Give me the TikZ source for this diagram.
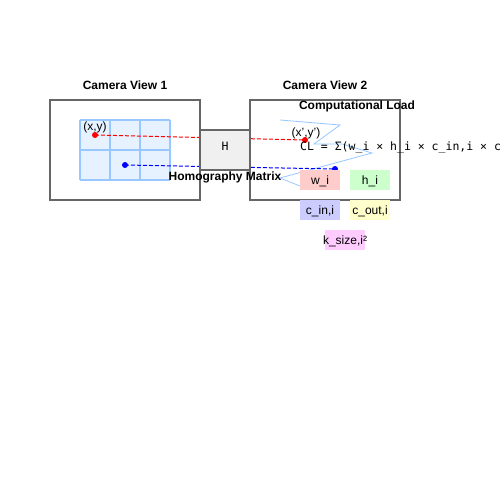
\documentclass[tikz,border=0pt]{standalone}
\usepackage{fontspec}
\setmainfont{Liberation Sans}
\setmonofont{DejaVu Sans Mono}
\definecolor{gridfill}{HTML}{E6F2FF}
\definecolor{gridline}{HTML}{99C7FF}
\definecolor{boxline}{HTML}{666666}
\definecolor{wfill}{HTML}{FFCCCC}
\definecolor{hfill}{HTML}{CCFFCC}
\definecolor{cinfill}{HTML}{CCCCFF}
\definecolor{coutfill}{HTML}{FFFFCC}
\definecolor{kfill}{HTML}{FFCCFF}
\begin{document}
\begin{tikzpicture}[x=1pt,y=-1pt,
  view/.style={draw=boxline, line width=1.2pt, minimum width=150pt, minimum height=100pt, inner sep=0pt, outer sep=0pt},
  title/.style={font=\bfseries\fontsize{12}{14}\selectfont, inner sep=0pt, anchor=base},
  lbl/.style={font=\fontsize{12}{14}\selectfont, inner sep=0pt, anchor=base},
  mono/.style={font=\ttfamily\fontsize{11.5}{13}\selectfont, inner sep=0pt, anchor=base},
  varbox/.style={minimum width=40pt, minimum height=20pt, inner sep=0pt, outer sep=0pt},
  boxtext/.style={font=\fontsize{12}{14}\selectfont, inner sep=0pt, text height=8.6pt, text depth=0pt},
  dotnode/.style={circle, inner sep=0pt, minimum size=6pt},
  corr/.style={line width=1pt, dash pattern=on 4pt off 2pt},
  gridstroke/.style={draw=gridline, line width=1.5pt},
  warp/.style={draw=gridline, line width=0.8pt}]
\useasboundingbox (0,0) rectangle (500,500);
\clip (0,0) rectangle (500,500);
\fill[white] (0,0) rectangle (500,500);

% camera views
\node[view] (cv1) at (125,150) {};
\node[view] (cv2) at (325,150) {};
\node[title] (t1) at (125,90) {Camera View 1};
\node[title] (t2) at (325,90) {Camera View 2};
\node[title] (tcl) at (357,110) {Computational Load};

% grid in view 1
\fill[gridfill] (80,120) rectangle (170,180);
\foreach \gx in {80,110,140,170} \draw[gridstroke] (\gx,120) -- (\gx,180);
\foreach \gy in {120,150,180} \draw[gridstroke] (80,\gy) -- (170,\gy);

% warped grid in view 2
\draw[warp] (280,120) -- (340,125) -- (314,144) -- (342,144) -- (372,153) -- (280,178) -- (310,190);

% points
\node[dotnode, fill=red] (p1) at (95,135) {};
\node[dotnode, fill=blue] (q1) at (125,165) {};
\node[dotnode, fill=red] (p2) at (305,140) {};
\node[dotnode, fill=blue] (q2) at (335,169) {};
\draw[corr, red] (p1.center) -- (p2.center);
\draw[corr, blue] (q1.center) -- (q2.center);
\node[lbl] (lp1) at (95,131) {(x,y)};
\node[lbl] (lp2) at (306,136) {(x',y')};

% homography
\node[draw=boxline, line width=1.2pt, fill=black!6, minimum width=50pt, minimum height=40pt, inner sep=0pt] (H) at (225,150) {};
\node[mono] (Hl) at (225,150) {H};
\node[title] (hm) at (225,180) {Homography Matrix};

% formula
\node[mono, anchor=base west] (cl) at (300,150) {CL = Σ(w\_i × h\_i × c\_in,i × c\_out,i × k\_size,i²)};

% variable boxes
\node[varbox, fill=wfill] (wi) at (320,180) {};
\node[varbox, fill=hfill] (hi) at (370,180) {};
\node[varbox, fill=cinfill] (cin) at (320,210) {};
\node[varbox, fill=coutfill] (cout) at (370,210) {};
\node[varbox, fill=kfill] (ks) at (345,240) {};
\node[boxtext] (wit) at (wi) {w\_i};
\node[boxtext] (hit) at (hi) {h\_i};
\node[boxtext] (cint) at (cin) {c\_in,i};
\node[boxtext] (coutt) at (cout) {c\_out,i};
\node[boxtext] (kst) at (ks) {k\_size,i²};
\end{tikzpicture}
\end{document}
